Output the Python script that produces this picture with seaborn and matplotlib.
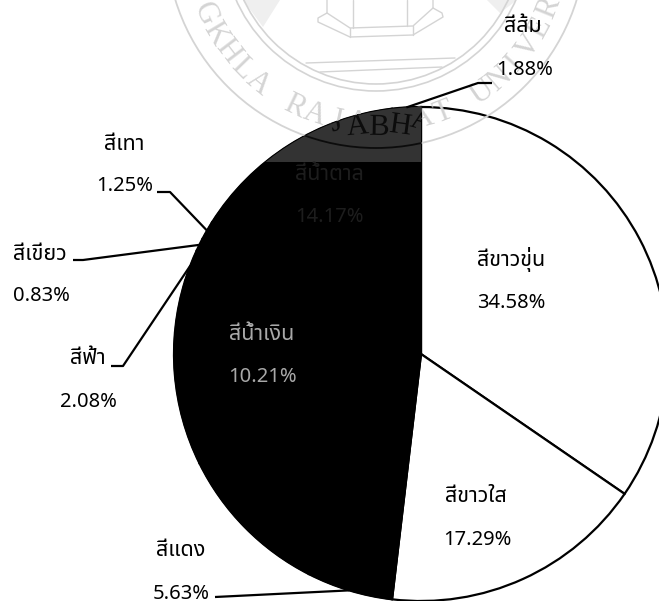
import numpy as np
import matplotlib
matplotlib.use('Agg')
import matplotlib.pyplot as plt
from matplotlib.patches import Wedge, Rectangle, Polygon, Circle, PathPatch
from matplotlib.textpath import TextPath
from matplotlib.font_manager import FontProperties
from matplotlib.transforms import Affine2D
import seaborn as sns

sns.set_theme(style='white')
plt.rcParams['font.family'] = ['Noto Sans Thai', 'DejaVu Sans']

# ---- data -------------------------------------------------------------
categories = ['สีขาวขุ่น', 'สีขาวใส', 'สีแดง', 'สีน้ำเงิน', 'สีดำ', 'สีฟ้า', 'สีเขียว', 'สีเทา', 'สีน้ำตาล', 'สีส้ม']
values = [34.58, 17.29, 5.63, 10.21, 12.08, 2.08, 0.83, 1.25, 14.17, 1.88]
slice_colors = ['white', 'white'] + ['black'] * 8
pct_labels = ['34.58%', '17.29%', '5.63%', '10.21%', '', '2.08%', '0.83%', '1.25%', '14.17%', '1.88%']

# label placement in pixels: (name xy, percent xy), colour, leader elbow points
name_xy = [(511, 260), (476, 497), (181, 551), (262, 334), None, (88, 358), (40, 254), (124, 144), (329, 175), (523, 26)]
pct_xy = [(511, 303), (477, 540), (181, 594), (262, 377), None, (88, 402), (41, 296), (125, 186), (329, 217), (525, 70)]
label_cols = ['black', 'black', 'black', '#a8a8a8', None, 'black', 'black', 'black', '#1d1d1d', 'black']
leader_pts = {2: [(215, 597)], 5: [(111, 366), (123, 366)], 6: [(73, 260), (83, 260)],
              7: [(157, 192), (170, 192)], 9: [(492, 83), (478, 83)]}

CX, CY, R = 421, 354, 247
BAND_Y = 162

fig = plt.figure(figsize=(6.59, 6.01), dpi=100, facecolor='white')
ax = fig.add_axes([0, 0, 1, 1])

# y axis runs downward (pixel layout), so counterclock=True reads clockwise on screen
wedges, _ = ax.pie(values, colors=slice_colors, startangle=-90, counterclock=True,
                   center=(CX, CY), radius=R, normalize=True,
                   wedgeprops=dict(edgecolor='black', linewidth=1.6, zorder=2))
ax.set_xlim(0, 659)
ax.set_ylim(601, 0)
ax.set_aspect('equal')
ax.axis('off')

# ---- watermark seal ----------------------------------------------------
WX, WY = 376, -62
WM_TEXT = 'SONGKHLA RAJABHAT UNIVERSITY'
WM_SIZE = 22
wm_font = FontProperties(family='Liberation Serif')


def letter_spots():
    for i, ch in enumerate(WM_TEXT):
        if ch == ' ':
            continue
        phi = (i - 13) * 6.7 + 1
        x = WX + 187 * np.sin(np.radians(phi))
        y = WY + 187 * np.cos(np.radians(phi))
        if y > 8:
            yield ch, phi, x, y


def draw_shapes(color, z, clip=None):
    arts = []
    for r, lw in [(210, 1.3), (153, 1.2), (146, 1.2)]:
        arts.append(ax.add_patch(Circle((WX, WY), r, fill=False, ec=color, lw=lw, zorder=z)))
    for poly in [[(327, 0), (327, 13), (318, 18), (318, 22), (350, 37), (413, 35), (443, 17), (442, 13), (433, 8), (433, 0)],
                 [(327, 13), (350, 28), (413, 26), (433, 8)],
                 [(353, 0), (353, 28)], [(407, 0), (407, 26)], [(350, 28), (350, 37)], [(413, 26), (413, 35)],
                 [(306, 63), (455, 58)], [(320, 72), (442, 67)]]:
        xs, ys = zip(*poly)
        arts += ax.plot(xs, ys, color=color, lw=1.0, zorder=z)
    if clip is not None:
        for a in arts:
            a.set_clip_path(clip)


for tri in [[(243, 0), (263, 27), (280, 0)], [(487, 0), (500, 13), (517, 0)]]:
    ax.add_patch(Polygon(tri, closed=True, fc='#efefef', ec='none', zorder=1))
draw_shapes('#d4d4d4', 3)
for ch, phi, x, y in letter_spots():
    ax.text(x, y, ch, rotation=phi, rotation_mode='anchor', ha='center', va='center',
            family='Liberation Serif', fontsize=WM_SIZE, color='#d4d4d4', zorder=3)

# ---- dark half of the pie with the lighter scanned band on top ---------
dark_start = -90 + 360 * sum(values[:2]) / sum(values)
dark = Wedge((CX, CY), R, dark_start, 270, fc='black', ec='black', lw=1.0, zorder=4)
ax.add_patch(dark)
band = Rectangle((0, 0), 659, BAND_Y, fc='#333333', ec='none', zorder=5)
ax.add_patch(band)
band.set_clip_path(dark)
draw_shapes('#0c0c0c', 6, clip=dark)
# the part of the seal's lettering that falls on the dark band
for ch, phi, x, y in letter_spots():
    if 300 < x < 440 and y > 100:
        tp = TextPath((0, 0), ch, size=WM_SIZE * 100 / 72, prop=wm_font)
        bb = tp.get_extents()
        tr = (Affine2D().translate(-bb.width / 2 - bb.x0, -bb.height / 2 - bb.y0)
              .rotate_deg(-phi).scale(1, -1).translate(x, y))
        p = PathPatch(tp, fc='#0c0c0c', ec='none', zorder=6, transform=tr + ax.transData)
        ax.add_patch(p)
        p.set_clip_path(dark)

# ---- labels and leaders -------------------------------------------------
FS_NAME = 15.5
FS_PCT = 14.5
cum = np.cumsum(values)
mid_deg = -90 + 360 * (cum - np.array(values) / 2) / cum[-1]
for i in range(len(values)):
    if name_xy[i] is None:
        continue
    ax.text(*name_xy[i], categories[i], ha='center', va='center', fontsize=FS_NAME, color=label_cols[i], zorder=8)
    ax.text(*pct_xy[i], pct_labels[i], ha='center', va='center', fontsize=FS_PCT, color=label_cols[i], zorder=8)
    if i in leader_pts:
        ex = CX + R * np.cos(np.radians(mid_deg[i]))
        ey = CY + R * np.sin(np.radians(mid_deg[i]))
        pts = leader_pts[i] + [(ex, ey)]
        ax.plot(*zip(*pts), color='black', lw=1.6, zorder=7, solid_capstyle='butt')

fig.savefig('out.png', dpi=100, facecolor='white')
